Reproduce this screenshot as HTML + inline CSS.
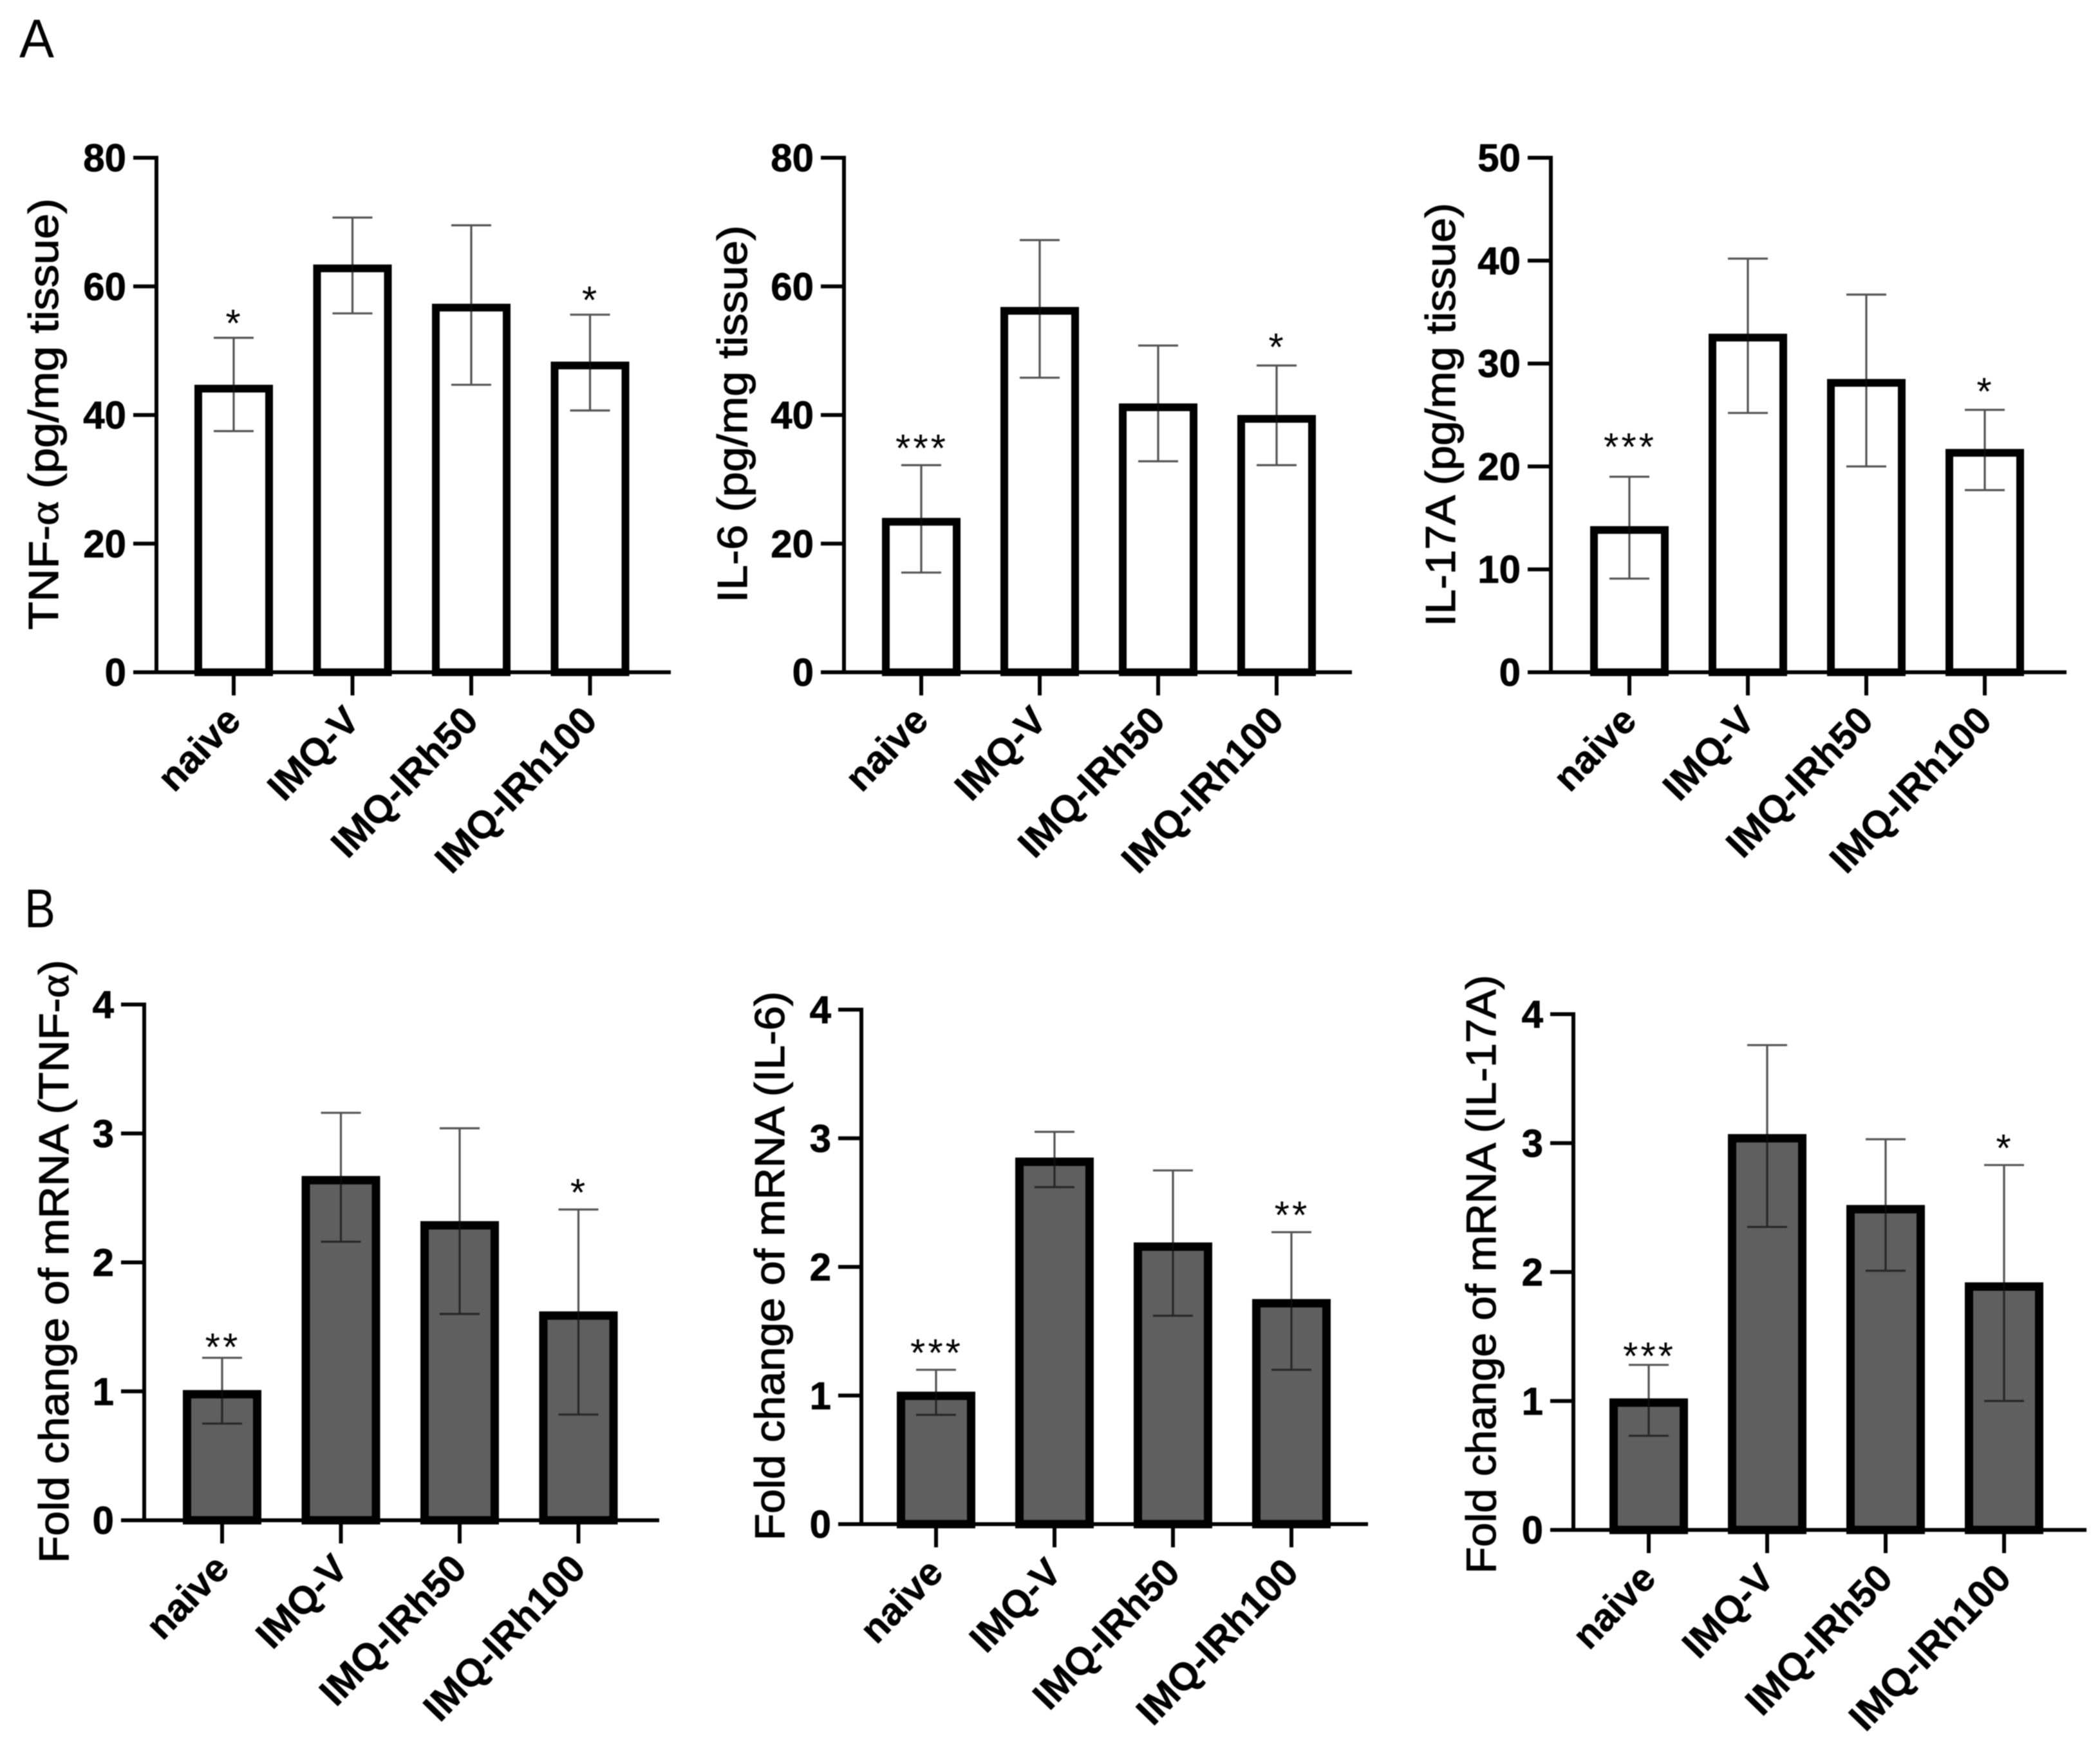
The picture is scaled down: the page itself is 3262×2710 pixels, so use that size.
<!DOCTYPE html>
<html lang="en">
<head>
<meta charset="utf-8">
<title>Cytokine levels and mRNA fold change</title>
<style>
html,body{margin:0;padding:0;background:#fff;}
svg{display:block;filter:blur(0.8px);}
text{font-family:"Liberation Sans",sans-serif;fill:#000;}
</style>
</head>
<body>
<svg id="figure" xmlns="http://www.w3.org/2000/svg" width="3262" height="2710" viewBox="0 0 3262 2710">
<rect width="3262" height="2710" fill="#fff"/>
<text x="30" y="89" font-size="84" textLength="54" lengthAdjust="spacingAndGlyphs">A</text>
<text x="38" y="1440" font-size="84" textLength="48" lengthAdjust="spacingAndGlyphs">B</text>
</svg>
<script>
const categories = ['naive', 'IMQ-V', 'IMQ-IRh50', 'IMQ-IRh100'];

const tnfProteinMeans = [44.7, 63.4, 57.3, 48.3];
const tnfProteinUpper = [52, 70.7, 69.5, 55.6];
const tnfProteinLower = [37.5, 55.8, 44.7, 40.7];
const tnfProteinStars = ['*', '', '', '*'];
const tnfProteinTicks = [0, 20, 40, 60, 80];

const il6ProteinMeans = [24, 56.8, 41.8, 40];
const il6ProteinUpper = [32.2, 67.2, 50.8, 47.7];
const il6ProteinLower = [15.5, 45.8, 32.8, 32.2];
const il6ProteinStars = ['***', '', '', '*'];
const il6ProteinTicks = [0, 20, 40, 60, 80];

const il17ProteinMeans = [14.2, 32.9, 28.5, 21.7];
const il17ProteinUpper = [19, 40.2, 36.7, 25.5];
const il17ProteinLower = [9.1, 25.2, 20, 17.7];
const il17ProteinStars = ['***', '', '', '*'];
const il17ProteinTicks = [0, 10, 20, 30, 40, 50];

const tnfMrnaMeans = [1.01, 2.67, 2.32, 1.62];
const tnfMrnaUpper = [1.26, 3.16, 3.04, 2.41];
const tnfMrnaLower = [0.75, 2.16, 1.6, 0.82];
const tnfMrnaStars = ['**', '', '', '*'];
const tnfMrnaTicks = [0, 1, 2, 3, 4];

const il6MrnaMeans = [1.03, 2.85, 2.19, 1.75];
const il6MrnaUpper = [1.2, 3.05, 2.75, 2.27];
const il6MrnaLower = [0.85, 2.62, 1.62, 1.2];
const il6MrnaStars = ['***', '', '', '**'];
const il6MrnaTicks = [0, 1, 2, 3, 4];

const il17MrnaMeans = [1.02, 3.07, 2.52, 1.92];
const il17MrnaUpper = [1.28, 3.76, 3.03, 2.83];
const il17MrnaLower = [0.73, 2.35, 2.01, 1.0];
const il17MrnaStars = ['***', '', '', '*'];
const il17MrnaTicks = [0, 1, 2, 3, 4];

const NS = 'http://www.w3.org/2000/svg';
const figure = document.getElementById('figure');

function make(parent, tag, attrs, text) {
  const el = document.createElementNS(NS, tag);
  for (const k in attrs) el.setAttribute(k, attrs[k]);
  if (text !== undefined) el.textContent = text;
  parent.appendChild(el);
  return el;
}

const panels = [
  { id: 'tnf-protein', title: 'TNF-α (pg/mg tissue)', means: tnfProteinMeans, upper: tnfProteinUpper, lower: tnfProteinLower, stars: tnfProteinStars, ticks: tnfProteinTicks,
    axisX: 243, top: 245, bottom: 1044, right: 1042, first: 363, step: 184.5, fill: '#fff', titleX: 90, titleY: 643, titleLen: 670, starSingle: 4, starMulti: 8, sw: 12 },
  { id: 'il6-protein', title: 'IL-6 (pg/mg tissue)', means: il6ProteinMeans, upper: il6ProteinUpper, lower: il6ProteinLower, stars: il6ProteinStars, ticks: il6ProteinTicks,
    axisX: 1311, top: 245, bottom: 1044, right: 2100, first: 1431, step: 184, fill: '#fff', titleX: 1160, titleY: 643, titleLen: 586, starSingle: 10, starMulti: 8, sw: 12 },
  { id: 'il17-protein', title: 'IL-17A (pg/mg tissue)', means: il17ProteinMeans, upper: il17ProteinUpper, lower: il17ProteinLower, stars: il17ProteinStars, ticks: il17ProteinTicks,
    axisX: 2409, top: 245, bottom: 1044, right: 3210, first: 2531, step: 184, fill: '#fff', titleX: 2260, titleY: 644, titleLen: 658, starSingle: 10, starMulti: 28, sw: 12 },
  { id: 'tnf-mrna', title: 'Fold change of mRNA (TNF-α)', means: tnfMrnaMeans, upper: tnfMrnaUpper, lower: tnfMrnaLower, stars: tnfMrnaStars, ticks: tnfMrnaTicks,
    axisX: 224, top: 1560, bottom: 2361, right: 1024, first: 345, step: 184.5, fill: '#5f5f5f', titleX: 106, titleY: 1959, titleLen: 937, starSingle: 8, starMulti: -2, sw: 13 },
  { id: 'il6-mrna', title: 'Fold change of mRNA (IL-6)', means: il6MrnaMeans, upper: il6MrnaUpper, lower: il6MrnaLower, stars: il6MrnaStars, ticks: il6MrnaTicks,
    axisX: 1338, top: 1568, bottom: 2367, right: 2125, first: 1454, step: 184, fill: '#5f5f5f', titleX: 1218, titleY: 1966, titleLen: 853, starSingle: 8, starMulti: 8, sw: 13 },
  { id: 'il17-mrna', title: 'Fold change of mRNA (IL-17A)', means: il17MrnaMeans, upper: il17MrnaUpper, lower: il17MrnaLower, stars: il17MrnaStars, ticks: il17MrnaTicks,
    axisX: 2444, top: 1575, bottom: 2376, right: 3241, first: 2561, step: 184, fill: '#5f5f5f', titleX: 2323, titleY: 1979, titleLen: 930, starSingle: 8, starMulti: -5, sw: 13 }
];

function drawPanel(p) {
  const maxValue = p.ticks[p.ticks.length - 1];
  const yScale = v => p.bottom - (v / maxValue) * (p.bottom - p.top);
  const xScale = i => p.first + i * p.step;
  const barW = 122, capW = 62, sw = p.sw;

  const g = make(figure, 'g', {});
  
  

  categories.forEach((cat, i) => {
    const cx = xScale(i);
    const yTop = yScale(p.means[i]);
    const bar = make(g, 'rect', {
      x: cx - barW / 2 + sw / 2, y: yTop + sw / 2,
      width: barW - sw, height: p.bottom - yTop - sw / 2,
      fill: p.fill, stroke: '#000', 'stroke-width': sw
    });
    
    

    const yU = yScale(p.upper[i]);
    const yL = yScale(p.lower[i]);
    const err = make(g, 'path', {
      d: 'M' + (cx - capW / 2) + ' ' + yU + 'H' + (cx + capW / 2) +
         'M' + cx + ' ' + yU + 'V' + yL +
         'M' + (cx - capW / 2) + ' ' + yL + 'H' + (cx + capW / 2),
      fill: 'none', stroke: '#111', 'stroke-width': 3.2, 'stroke-opacity': 0.72
    });
    
    

    if (p.stars[i]) {
      const star = make(g, 'text', {
        x: cx + 1, y: yU - (p.stars[i] === '*' ? p.starSingle : p.starMulti) + 2, 'font-size': 60,
        'text-anchor': 'middle', 'letter-spacing': 4
      }, p.stars[i]);
      
      
    }

    const tick = make(g, 'line', {
      x1: cx, x2: cx, y1: p.bottom, y2: p.bottom + 36, stroke: '#000', 'stroke-width': 6
    });
    
    

    const lx = cx + 14, ly = p.bottom + 78;
    const label = make(g, 'text', {
      x: lx, y: ly, 'font-size': 60, 'font-weight': 700, 'text-anchor': 'end',
      stroke: '#000', 'stroke-width': 0.6,
      transform: 'rotate(-46 ' + lx + ' ' + ly + ')'
    }, cat);
    
    
  });

  const yAxis = make(g, 'line', {
    x1: p.axisX, x2: p.axisX, y1: p.top - 3, y2: p.bottom + 3, stroke: '#000', 'stroke-width': 6
  });
  
  

  const xAxis = make(g, 'line', {
    x1: p.axisX - 36, x2: p.right, y1: p.bottom, y2: p.bottom, stroke: '#000', 'stroke-width': 6
  });
  
  

  p.ticks.forEach(t => {
    const y = yScale(t);
    const tick = make(g, 'line', {
      x1: p.axisX - 36, x2: p.axisX, y1: y, y2: y, stroke: '#000', 'stroke-width': 6
    });
    
    

    const label = make(g, 'text', {
      x: p.axisX - 47, y: y + 21, 'font-size': 60, 'font-weight': 700, 'text-anchor': 'end',
      stroke: '#000', 'stroke-width': 0.8
    }, String(t));
    
    
  });

  const title = make(g, 'text', {
    x: p.titleX, y: p.titleY, 'font-size': 65, 'text-anchor': 'middle',
    stroke: '#000', 'stroke-width': 1.2,
    textLength: p.titleLen, lengthAdjust: 'spacingAndGlyphs',
    transform: 'rotate(-90 ' + p.titleX + ' ' + p.titleY + ')'
  });
  
  
  p.title.split('α').forEach((part, idx) => {
    if (idx > 0) make(title, 'tspan', { 'font-family': '"Liberation Serif", serif' }, 'α');
    make(title, 'tspan', {}, part);
  });
}

panels.forEach(drawPanel);
</script>
</body>
</html>
